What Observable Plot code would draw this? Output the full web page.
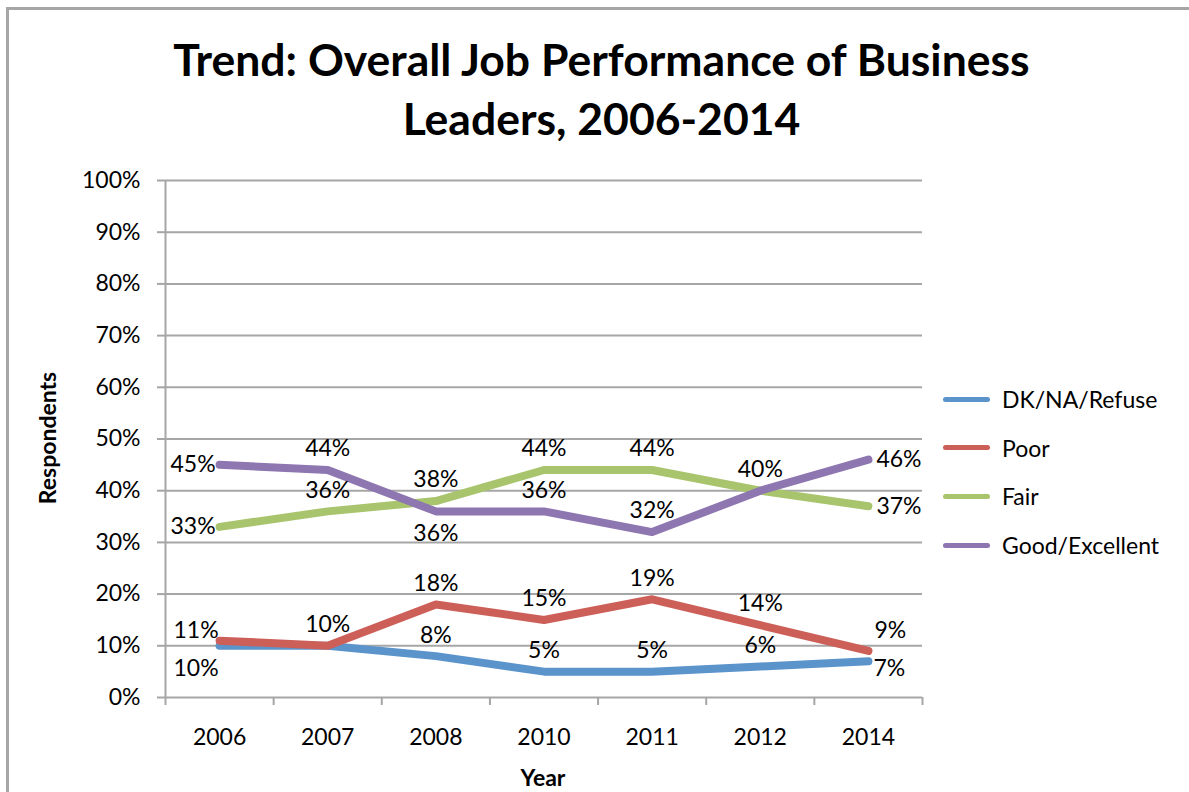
<!DOCTYPE html>
<html>
<head>
<meta charset="utf-8">
<script src="https://cdn.jsdelivr.net/npm/d3@7"></script>
<script src="https://cdn.jsdelivr.net/npm/@observablehq/plot@0.6"></script>
<style>
  html, body { margin: 0; padding: 0; background: #fff; overflow: hidden; }
  body { width: 1189px; height: 792px; position: relative; font-family: Lato, "Open Sans", sans-serif; color: #000; }
  #frame { position: absolute; left: 6px; top: 7px; width: 1300px; height: 900px; border: 3px solid #a6a6a6; box-sizing: border-box; }
  #title { position: absolute; left: 0; width: 1203px; top: 29px; text-align: center; font-weight: 700; font-size: 44.5px; line-height: 59px; }
  #chart { position: absolute; left: 0; top: 150px; }
  .axtitle { position: absolute; font-weight: 700; font-size: 23px; white-space: nowrap; }
  #ylab { left: 47px; top: 438px; transform: translate(-50%, -50%) rotate(-90deg); }
  #xlab { left: 543px; top: 777px; transform: translate(-50%, -50%); }
  #legend { position: absolute; left: 943px; top: 384px; }
  .lg { position: absolute; left: 0; height: 30px; display: flex; align-items: center; white-space: nowrap; font-size: 23px; }
  .lg .sw { width: 47px; height: 5px; border-radius: 3px; margin-right: 12px; }
</style>
</head>
<body>
<div id="frame"></div>
<div id="title">Trend: Overall Job Performance of Business<br>Leaders, 2006-2014</div>
<div id="chart"></div>
<div class="axtitle" id="ylab">Respondents</div>
<div class="axtitle" id="xlab">Year</div>
<div id="legend"></div>
<script>
// ---- data ----
const years = ["2006", "2007", "2008", "2010", "2011", "2012", "2014"];
const seriesNames = ["DK/NA/Refuse", "Poor", "Fair", "Good/Excellent"];
const dkValues = [10, 10, 8, 5, 5, 6, 7];
const poorValues = [11, 10, 18, 15, 19, 14, 9];
const fairValues = [33, 36, 38, 44, 44, 40, 37];
const goodValues = [45, 44, 36, 36, 32, 40, 46];
const yTickValues = [0, 10, 20, 30, 40, 50, 60, 70, 80, 90, 100];

// ---- styles ----
const colors = ["#5b93cb", "#cd5f59", "#a8c46c", "#8e76b0"];
// label placement per series per year (null = label hidden)
const labelPlacement = [
  ["belowLeft", null, "above", "above", "above", "above", "belowRight"],
  ["aboveLeft", "above", "above", "above", "above", "above", "aboveRight"],
  ["left", "above", "above", "above", "above", null, "right"],
  ["left", "above", "below", "above", "above", "above", "right"]
];
const placementStyle = {
  above:      {textAnchor: "middle", dx: 0,  dy: -21},
  below:      {textAnchor: "middle", dx: 0,  dy: 22},
  left:       {textAnchor: "end",    dx: -4, dy: 0},
  right:      {textAnchor: "start",  dx: 8,  dy: 0},
  aboveLeft:  {textAnchor: "end",    dx: -1, dy: -10},
  belowLeft:  {textAnchor: "end",    dx: -1, dy: 23},
  aboveRight: {textAnchor: "start",  dx: 6,  dy: -20},
  belowRight: {textAnchor: "start",  dx: 5,  dy: 7}
};

const allValues = [dkValues, poorValues, fairValues, goodValues];
const rows = [];
seriesNames.forEach((s, si) => {
  years.forEach((y, i) => {
    rows.push({series: s, i, year: y, value: allValues[si][i], placement: labelPlacement[si][i]});
  });
});

const n = years.length;
const xDomain = [-0.5, n - 0.5];
const boundaries = d3.range(n + 1).map(k => k - 0.5);
const grey = "#a6a6a6";
const fs = 23;

const labelMarks = Object.entries(placementStyle).map(([key, st]) =>
  Plot.text(rows.filter(d => d.placement === key), {
    x: "i", y: "value", text: d => d.value + "%",
    textAnchor: st.textAnchor, dx: st.dx, dy: st.dy,
    fill: "#000", fontSize: fs, lineAnchor: "middle"
  })
);

const plot = Plot.plot({
  width: 1189,
  height: 642,
  marginLeft: 165,
  marginRight: 267,
  marginTop: 30,
  marginBottom: 95,
  style: {fontFamily: "Lato, 'Open Sans', sans-serif", background: "transparent", color: "#000", overflow: "visible"},
  x: {type: "linear", domain: xDomain, axis: null},
  y: {domain: [0, 100], axis: null},
  color: {domain: seriesNames, range: colors},
  marks: [
    Plot.ruleY(yTickValues, {stroke: grey, strokeWidth: 2}),
    Plot.ruleX([xDomain[0]], {stroke: grey, strokeWidth: 2}),
    Plot.axisY({ticks: yTickValues, tickSize: 8, tickPadding: 17, tickFormat: d => d + "%",
      stroke: grey, strokeWidth: 2, strokeOpacity: 1, fontSize: fs, fill: "#000", label: null}),
    Plot.axisX({ticks: boundaries, tickSize: 8, tickFormat: () => "", stroke: grey, strokeWidth: 2, strokeOpacity: 1, label: null}),
    Plot.axisX({ticks: d3.range(n), tickSize: 0, tickPadding: 31, tickFormat: i => years[i], fontSize: fs, fill: "#000", label: null}),
    Plot.line(rows, {x: "i", y: "value", z: "series", stroke: "series", strokeWidth: 8,
      strokeLinecap: "round", strokeLinejoin: "round"}),
    ...labelMarks
  ]
});
document.getElementById("chart").appendChild(plot);

// legend
const legend = document.getElementById("legend");
seriesNames.forEach((s, k) => {
  const row = document.createElement("div");
  row.className = "lg";
  row.style.top = (k * 48.7) + "px";
  const sw = document.createElement("div");
  sw.className = "sw";
  sw.style.background = colors[k];
  const tx = document.createElement("span");
  tx.textContent = s;
  row.appendChild(sw);
  row.appendChild(tx);
  legend.appendChild(row);
});
</script>
</body>
</html>
